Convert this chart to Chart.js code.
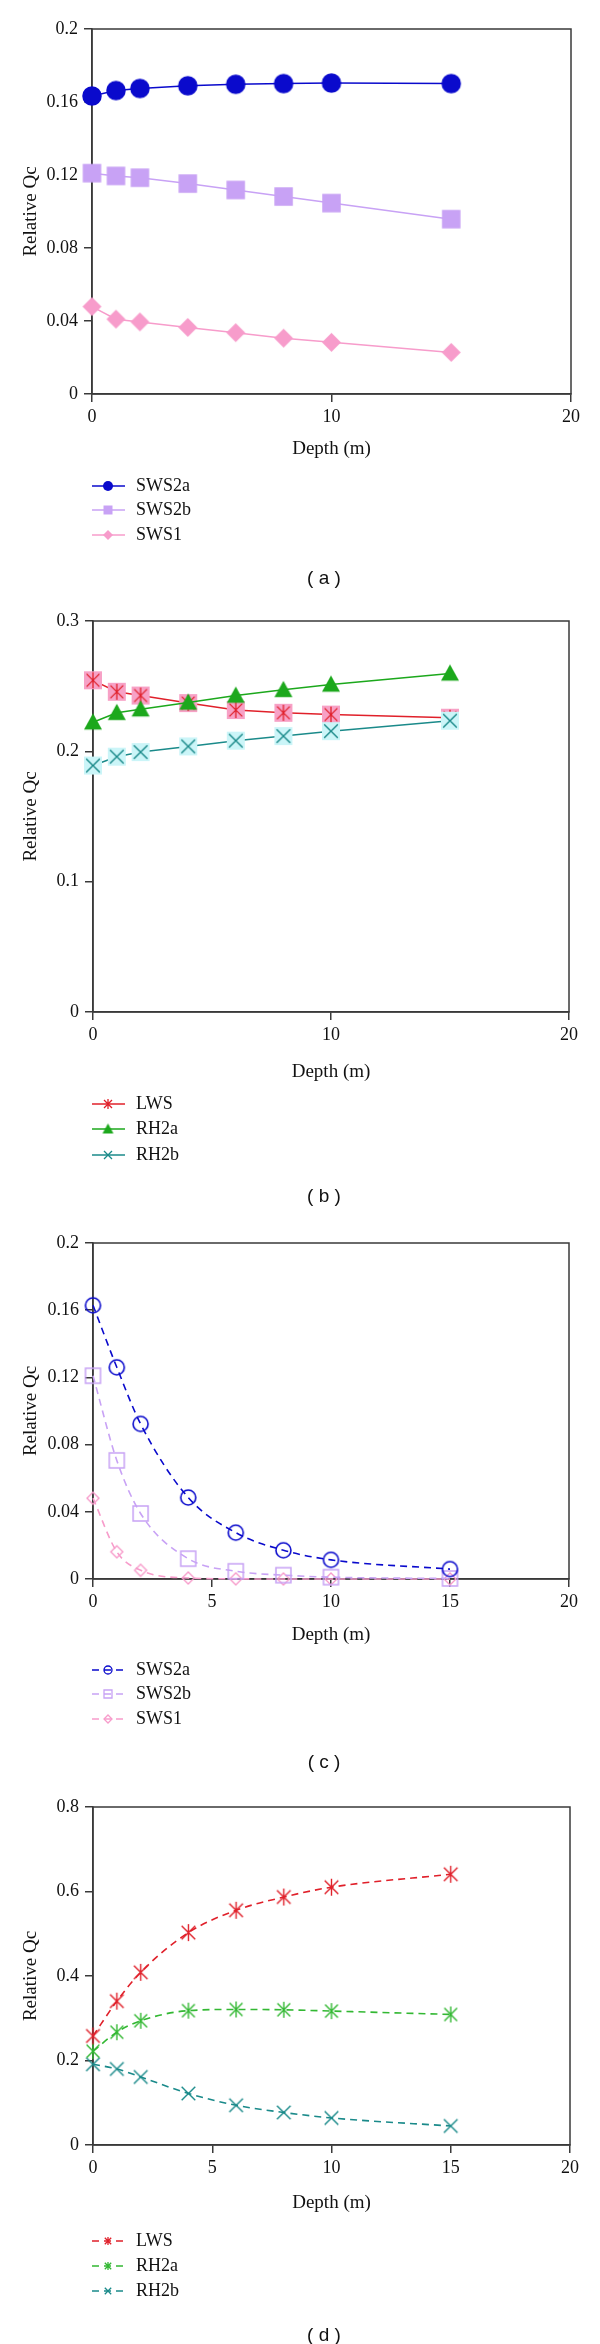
<!DOCTYPE html>
<html>
<head>
<meta charset="utf-8">
<script src="https://cdn.jsdelivr.net/npm/chart.js@4.4.0/dist/chart.umd.min.js"></script>
<style>
  html, body { margin: 0; padding: 0; background: #fff; }
  #wrap { position: relative; width: 600px; height: 2344px; }
  canvas { position: absolute; left: 0; }
</style>
</head>
<body>
<div id="wrap">
  <canvas id="pa" width="600" height="600" style="top:0px"></canvas>
  <canvas id="pb" width="600" height="610" style="top:600px"></canvas>
  <canvas id="pc" width="600" height="570" style="top:1210px"></canvas>
  <canvas id="pd" width="600" height="564" style="top:1780px"></canvas>
</div>
<script>
// depth values shared by every panel
const depth = [0, 1, 2, 4, 6, 8, 10, 15];

// (a)
const aSWS2a = [0.1633, 0.1663, 0.1674, 0.1689, 0.1697, 0.1701, 0.1704, 0.1701];
const aSWS2b = [0.1210, 0.1195, 0.1185, 0.1153, 0.1118, 0.1082, 0.1046, 0.0958];
const aSWS1 = [0.0479, 0.0410, 0.0395, 0.0365, 0.0336, 0.0306, 0.0283, 0.0228];
// (b)
const bLWS = [0.2545, 0.2457, 0.2428, 0.2370, 0.2317, 0.2296, 0.2282, 0.2258];
const bRH2a = [0.2223, 0.2296, 0.2323, 0.2375, 0.2428, 0.2472, 0.2513, 0.2598];
const bRH2b = [0.1891, 0.1959, 0.1994, 0.2038, 0.2082, 0.2117, 0.2155, 0.2235];
// (c)
const cSWS2a = [0.1629, 0.1260, 0.0923, 0.0485, 0.0276, 0.0171, 0.0114, 0.0059];
const cSWS2b = [0.1210, 0.0706, 0.0390, 0.0121, 0.0046, 0.0023, 0.0011, 0.0003];
const cSWS1 = [0.0481, 0.0162, 0.0052, 0.0006, 0.0001, 0, 0, 0];
// (d)
const dLWS = [0.2580, 0.3405, 0.4086, 0.5027, 0.5556, 0.5869, 0.6102, 0.6407];
const dRH2a = [0.2220, 0.2670, 0.2940, 0.3180, 0.3208, 0.3200, 0.3170, 0.3090];
const dRH2b = [0.1910, 0.1800, 0.1610, 0.1220, 0.0940, 0.0770, 0.0640, 0.0450];

const swsNames = ["SWS2a", "SWS2b", "SWS1"];
const rhNames = ["LWS", "RH2a", "RH2b"];
const captions = ["( a )", "( b )", "( c )", "( d )"];
const yMax = [0.2, 0.3, 0.2, 0.8];
const yStep = [0.04, 0.1, 0.04, 0.2];
const xStep = [10, 10, 5, 5];

const SERIF = '"Liberation Serif", "Times New Roman", serif';
const AXIS = "#3a3a3a";
Chart.defaults.font.family = SERIF;
Chart.defaults.font.size = 18;
Chart.defaults.color = "#111";

const BLUE = "#0a0acc", LAV = "#c8a2f5", PINK = "#f79ccb";
const RED = "#e0202a", GREEN = "#1ca81c", TEAL = "#1a8a8a";

// small canvas used as point style
function mark(size, parts) {
  const c = document.createElement("canvas");
  c.width = c.height = Math.ceil(size) + 4;
  const g = c.getContext("2d");
  const m = c.width / 2;
  parts.forEach(p => {
    const r = (p.size || size) / 2;
    g.beginPath();
    if (p.shape === "circle") g.arc(m, m, r, 0, 2 * Math.PI);
    else if (p.shape === "square") g.rect(m - r, m - r, 2 * r, 2 * r);
    else if (p.shape === "diamond") {
      g.moveTo(m, m - r); g.lineTo(m + r, m); g.lineTo(m, m + r); g.lineTo(m - r, m); g.closePath();
    } else if (p.shape === "triangle") {
      g.moveTo(m, m - r); g.lineTo(m + r, m + r * 0.8); g.lineTo(m - r, m + r * 0.8); g.closePath();
    } else {
      const k = r * 0.8;
      g.moveTo(m - k, m - k); g.lineTo(m + k, m + k);
      g.moveTo(m + k, m - k); g.lineTo(m - k, m + k);
      if (p.shape === "ast") { g.moveTo(m, m - r); g.lineTo(m, m + r); }
    }
    if (p.fill) { g.fillStyle = p.fill; g.fill(); }
    if (p.stroke) { g.lineWidth = p.lw || 1.4; g.strokeStyle = p.stroke; g.stroke(); }
  });
  return c;
}

const layouts = [
  { id: "pa", top: 29, bottom: 394, left: 92, right: 571, h: 600, gap: 55, rows: [486, 510, 535], cap: 579 },
  { id: "pb", top: 21, bottom: 412, left: 93, right: 569, h: 610, gap: 60, rows: [504, 529, 555], cap: 597 },
  { id: "pc", top: 33, bottom: 369, left: 93, right: 569, h: 570, gap: 56, rows: [460, 484, 509], cap: 553 },
  { id: "pd", top: 27, bottom: 365, left: 93, right: 570, h: 564, gap: 58, rows: [461, 486, 511], cap: 556 }
];

function line(label, data, color, pointMark, width, dashed, order) {
  return {
    label,
    data: depth.map((x, i) => ({ x, y: data[i] })),
    borderColor: color,
    backgroundColor: color,
    borderWidth: width,
    borderDash: dashed ? [7, 5] : [],
    pointStyle: pointMark,
    pointRadius: 10,
    pointHoverRadius: 10,
    tension: dashed ? 0.4 : 0,
    cubicInterpolationMode: dashed ? "monotone" : "default",
    clip: false,
    order
  };
}

const framePlugin = {
  id: "frame",
  beforeDatasetsDraw(chart) {
    const { ctx, chartArea: a } = chart;
    ctx.save();
    ctx.strokeStyle = AXIS;
    ctx.lineWidth = 1.5;
    ctx.strokeRect(a.left, a.top, a.right - a.left, a.bottom - a.top);
    ctx.restore();
  }
};

function keyPlugin(lay, caption, keyMarks) {
  return {
    id: "key",
    afterDraw(chart) {
      const ctx = chart.ctx;
      ctx.save();
      chart.data.datasets.forEach((ds, i) => {
        const y = lay.rows[i];
        ctx.strokeStyle = ds.borderColor;
        ctx.lineWidth = ds.borderWidth;
        ctx.setLineDash(ds.borderDash);
        ctx.beginPath();
        ctx.moveTo(92, y);
        ctx.lineTo(125, y);
        ctx.stroke();
        const m = keyMarks[i];
        ctx.drawImage(m, 108 - m.width / 2, y - m.height / 2);
        ctx.setLineDash([]);
        ctx.fillStyle = "#111";
        ctx.font = "18px " + SERIF;
        ctx.textBaseline = "middle";
        ctx.textAlign = "left";
        ctx.fillText(ds.label, 136, y);
      });
      ctx.font = '19px "Liberation Sans", Arial, sans-serif';
      ctx.textAlign = "center";
      ctx.textBaseline = "middle";
      ctx.fillStyle = "#111";
      ctx.fillText(caption, 324, lay.cap);
      ctx.restore();
    }
  };
}

function makeChart(n, datasets, keyMarks) {
  const lay = layouts[n];
  const grid = { drawOnChartArea: false, tickLength: 8, color: AXIS, lineWidth: 1.5 };
  new Chart(document.getElementById(lay.id), {
    type: "line",
    data: { datasets },
    options: {
      responsive: false,
      animation: false,
      devicePixelRatio: 1,
      layout: { padding: { top: lay.top, right: 600 - lay.right, left: 0, bottom: lay.h - lay.bottom - 75 } },
      plugins: { legend: { display: false }, tooltip: { enabled: false } },
      scales: {
        x: {
          type: "linear", min: 0, max: 20,
          ticks: { stepSize: xStep[n], padding: 4, maxRotation: 0 },
          grid, border: { color: AXIS, width: 1.5 },
          title: { display: true, text: "Depth (m)", font: { size: 19 }, padding: { top: 0, bottom: 75 - lay.gap - 11.4 } },
          afterFit(s) { s.height = 75; }
        },
        y: {
          min: 0, max: yMax[n],
          ticks: { stepSize: yStep[n], padding: 6, callback: v => String(+v.toFixed(2)) },
          grid, border: { color: AXIS, width: 1.5 },
          title: { display: true, text: "Relative Qc", font: { size: 19 }, padding: { top: 20, bottom: 0 } },
          afterFit(s) { s.width = lay.left; }
        }
      }
    },
    plugins: [framePlugin, keyPlugin(lay, captions[n], keyMarks)]
  });
}

// (a) filled markers, solid lines
makeChart(0, [
  line(swsNames[0], aSWS2a, BLUE, mark(19.5, [{ shape: "circle", fill: BLUE }]), 1.5, false, 0),
  line(swsNames[1], aSWS2b, LAV, mark(18.5, [{ shape: "square", fill: LAV }]), 1.5, false, 1),
  line(swsNames[2], aSWS1, PINK, mark(19, [{ shape: "diamond", fill: PINK }]), 1.5, false, 2)
], [
  mark(10, [{ shape: "circle", fill: BLUE }]),
  mark(9, [{ shape: "square", fill: LAV }]),
  mark(10, [{ shape: "diamond", fill: PINK }])
]);

// (b)
makeChart(1, [
  line(rhNames[0], bLWS, RED, mark(18, [{ shape: "square", fill: "#f7a1c6" }, { shape: "ast", stroke: RED, lw: 1.3, size: 16 }]), 1.5, false, 2),
  line(rhNames[1], bRH2a, GREEN, mark(18, [{ shape: "triangle", fill: GREEN }]), 1.5, false, 0),
  line(rhNames[2], bRH2b, TEAL, mark(18, [{ shape: "square", fill: "#cbf5f8" }, { shape: "x", stroke: TEAL, lw: 1.4, size: 17 }]), 1.5, false, 1)
], [
  mark(10, [{ shape: "ast", stroke: RED, lw: 1.3 }]),
  mark(11, [{ shape: "triangle", fill: GREEN }]),
  mark(10, [{ shape: "x", stroke: TEAL, lw: 1.3 }])
]);

// (c) open markers, dashed curves
makeChart(2, [
  line(swsNames[0], cSWS2a, BLUE, mark(15, [{ shape: "circle", stroke: BLUE, lw: 1.6 }]), 1.6, true, 0),
  line(swsNames[1], cSWS2b, LAV, mark(15, [{ shape: "square", stroke: LAV, lw: 1.5 }]), 1.6, true, 1),
  line(swsNames[2], cSWS1, PINK, mark(12, [{ shape: "diamond", stroke: PINK, lw: 1.4 }]), 1.6, true, 2)
], [
  mark(8, [{ shape: "circle", stroke: BLUE, lw: 1.3 }]),
  mark(8, [{ shape: "square", stroke: LAV, lw: 1.3 }]),
  mark(8, [{ shape: "diamond", stroke: PINK, lw: 1.3 }])
]);

// (d)
makeChart(3, [
  line(rhNames[0], dLWS, RED, mark(17, [{ shape: "ast", stroke: RED, lw: 1.4 }]), 1.6, true, 0),
  line(rhNames[1], dRH2a, "#33b833", mark(16, [{ shape: "ast", stroke: "#33b833", lw: 1.4 }]), 1.6, true, 1),
  line(rhNames[2], dRH2b, TEAL, mark(17, [{ shape: "x", stroke: TEAL, lw: 1.4 }]), 1.6, true, 2)
], [
  mark(8, [{ shape: "ast", stroke: RED, lw: 1.3 }]),
  mark(8, [{ shape: "ast", stroke: "#33b833", lw: 1.3 }]),
  mark(8, [{ shape: "x", stroke: TEAL, lw: 1.3 }])
]);
</script>
</body>
</html>
